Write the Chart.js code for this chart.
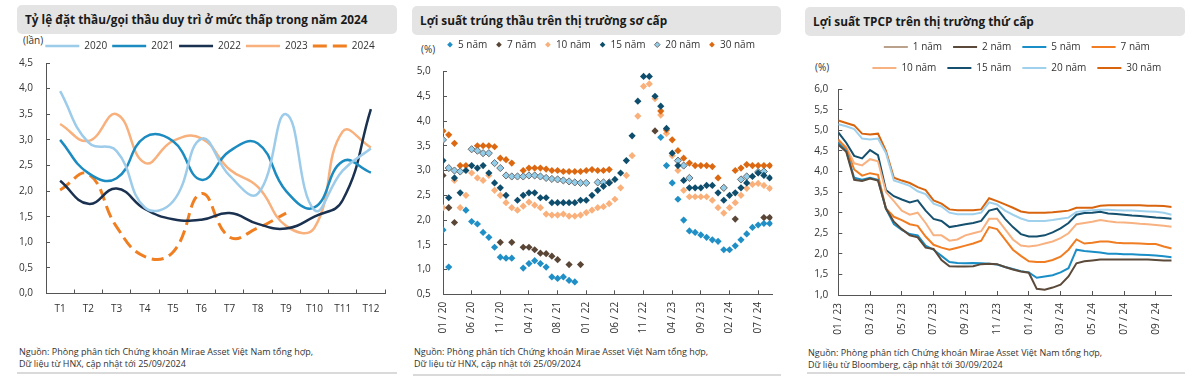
<!DOCTYPE html>
<html lang="vi">
<head>
<meta charset="utf-8">
<script src="https://cdn.jsdelivr.net/npm/chart.js@4.4.1/dist/chart.umd.min.js"></script>
<style>
  body { margin: 0; width: 1200px; height: 377px; background: #fff; position: relative; overflow: hidden; font-family: 'Open Sans', sans-serif; color: #333; }
  .bar { position: absolute; height: 29px; line-height: 29px; background: #e4e4e4; border-radius: 5px; padding-left: 8px; box-sizing: border-box; font-weight: 700; font-size: 11.8px; color: #1a1a1a; white-space: nowrap; }
  .unit { position: absolute; font-size: 10px; line-height: 13px; color: #333; }
  .src { position: absolute; font-size: 9px; line-height: 11.5px; color: #333; white-space: nowrap; }
  .rule { position: absolute; height: 2px; background: #dadada; }
  canvas { position: absolute; }
</style>
</head>
<body>
<div class="bar" style="left:17px;top:5px;width:380px">Tỷ lệ đặt thầu/gọi thầu duy trì ở mức thấp trong năm 2024</div>
<div class="bar" style="left:412px;top:6px;width:369px">Lợi suất trúng thầu trên thị trường sơ cấp</div>
<div class="bar" style="left:805px;top:7px;width:380px">Lợi suất TPCP trên thị trường thứ cấp</div>

<div class="unit" style="left:23px;top:34px">(lần)</div>
<div class="unit" style="left:421px;top:43px">(%)</div>
<div class="unit" style="left:815px;top:61px">(%)</div>

<canvas id="bidChart" width="400" height="300" style="left:0;top:36px"></canvas>
<canvas id="primaryChart" width="385" height="314" style="left:400px;top:31px"></canvas>
<canvas id="secondaryChart" width="410" height="314" style="left:790px;top:31px"></canvas>

<div class="src" style="left:19px;top:346px">Nguồn: Phòng phân tích Chứng khoán Mirae Asset Việt Nam tổng hợp,<br>Dữ liệu từ HNX, cập nhật tới 25/09/2024</div>
<div class="src" style="left:414px;top:346px">Nguồn: Phòng phân tích Chứng khoán Mirae Asset Việt Nam tổng hợp,<br>Dữ liệu từ HNX, cập nhật tới 25/09/2024</div>
<div class="src" style="left:808px;top:347px">Nguồn: Phòng phân tích Chứng khoán Mirae Asset Việt Nam tổng hợp,<br>Dữ liệu từ Bloomberg, cập nhật tới 30/09/2024</div>

<div class="rule" style="left:17px;top:372px;width:380px"></div>
<div class="rule" style="left:413px;top:374px;width:368px"></div>
<div class="rule" style="left:807px;top:372px;width:378px"></div>

<script>
// ---- chart 1: bid-to-cover ratio by month
const months = ['T1', 'T2', 'T3', 'T4', 'T5', 'T6', 'T7', 'T8', 'T9', 'T10', 'T11', 'T12'];
const bid2020 = [3.95, 2.95, 2.78, 1.68, 1.8, 3.02, 2.3, 1.95, 3.5, 1.63, 2.4, 2.83];
const bid2021 = [3.0, 2.35, 2.25, 3.05, 2.97, 2.22, 2.78, 2.93, 2.0, 1.68, 2.58, 2.36];
const bid2022 = [2.2, 1.75, 2.05, 1.65, 1.45, 1.44, 1.57, 1.36, 1.27, 1.5, 1.82, 3.6];
const bid2023 = [3.31, 2.98, 3.5, 2.55, 2.98, 3.03, 2.42, 2.08, 1.32, 1.28, 3.16, 2.85];
const bid2024 = [2.02, 2.33, 1.3, 0.72, 0.81, 1.95, 1.1, 1.28, 1.57];

// ---- chart 2: primary auction yields, sampled every 0.2 of a tick interval
const primaryTicks = ['01 / 20', '06 / 20', '11 / 20', '04 / 21', '08 / 21', '01 / 22', '06 / 22', '11 / 22', '04 / 23', '09 / 23', '02 / 24', '07 / 24'];
const primaryStep = 0.2;
const auction5 = [
  1.8, 1.05, null, null, 2.2, 1.97, 1.92, 1.75, 1.65, 1.45,
  1.25, 1.23, 1.23, null, 1.03, 1.12, 1.18, 1.12, 1.05, 0.85,
  0.82, 0.85, 0.78, 0.75, null, null, null, null, null, null,
  null, null, null, null, null, null, null, null, 3.67, 3.1,
  2.75, 2.42, 2.0, 1.78, 1.75, 1.7, 1.65, 1.6, 1.57, 1.4,
  1.4, 1.48, 1.6, 1.72, 1.85, 1.9, 1.93, 1.93];
const auction7 = [
  2.9, 2.25, 1.95, null, null, null, null, null, null, null,
  1.55, null, 1.55, null, 1.45, 1.45, 1.4, 1.33, 1.32, 1.27,
  1.2, null, 1.1, null, 1.1, null, null, null, null, null,
  null, null, null, null, null, null, null, 3.8, null, null,
  null, null, null, null, null, null, null, null, null, null,
  null, 2.02, null, null, null, null, 2.05, 2.05];
const auction10 = [
  2.25, 2.25, 2.8, 2.25, 2.5, 2.95, 2.85, 2.8, 2.9, 2.6,
  2.5, 2.35, 2.25, 2.2, 2.28, 2.36, 2.3, 2.25, 2.12, 2.1,
  2.1, 2.12, 2.08, 2.08, 2.1, 2.15, 2.2, 2.25, 2.27, 2.33,
  2.42, 2.65, 2.9, 3.3, 4.1, 4.7, 4.75, 4.45, 4.12, 3.75,
  3.3, 3.0, 2.6, 2.47, 2.47, 2.47, 2.47, 2.4, 2.25, 2.14,
  2.25, 2.35, 2.5, 2.64, 2.72, 2.74, 2.7, 2.64];
const auction15 = [
  3.2, 2.45, 2.85, 2.55, 3.0, 3.1, 3.05, 3.1, 2.95, 2.75,
  2.65, 2.5, null, 2.4, 2.5, 2.55, 2.55, 2.45, 2.45, 2.35,
  2.35, 2.35, 2.35, 2.35, 2.4, 2.4, 2.5, 2.6, 2.68, 2.75,
  2.82, 2.95, 3.2, 3.7, 4.4, 4.9, 4.9, 4.5, 4.3, 3.85,
  3.35, 3.1, 2.8, 2.65, 2.65, 2.65, 2.7, 2.7, 2.55, 2.4,
  2.5, 2.55, 2.65, 2.75, 2.88, 2.95, 2.9, 2.85];
const auction20 = [
  3.62, 3.05, 3.0, 2.98, null, 3.43, 3.4, 3.35, 3.35, 3.15,
  3.05, 2.9, 2.88, 2.88, 2.88, 2.9, 2.9, 2.88, 2.85, 2.83,
  2.82, 2.8, 2.78, 2.76, 2.75, 2.75, null, 2.76, 2.76, 2.76,
  null, null, null, null, null, null, null, null, null, null,
  null, 3.2, 3.1, 2.85, null, null, null, null, null, 2.65,
  null, null, 2.82, 2.88, null, 2.97, 2.98, null];
const auction30 = [
  3.8, 3.72, 3.55, 3.1, 3.1, null, 3.5, 3.5, 3.5, 3.48,
  3.25, 3.22, 3.15, null, 3.0, 3.05, 3.05, 3.05, 3.03, 3.0,
  3.0, 2.98, 2.98, 2.98, 2.98, 3.0, 3.02, 3.0, 3.0, 3.02,
  null, null, null, null, null, null, null, null, 4.2, 3.82,
  3.62, 3.4, 3.25, 3.15, 3.1, 3.1, 3.1, 3.08, 2.85, 2.65,
  null, 3.0, 3.05, 3.12, 3.1, 3.1, 3.1, 3.1];

// ---- chart 3: secondary market yields, every half month from 01/23
const secondaryTicks = ['01 / 23', '03 / 23', '05 / 23', '07 / 23', '09 / 23', '11 / 23', '01 / 24', '03 / 24', '05 / 24', '07 / 24', '09 / 24'];
const secondaryStep = 0.5;
const gov1 = [];
const gov2 = [
  4.65, 4.48, 3.8, 3.77, 3.83, 3.78, 3.1, 2.78, 2.6, 2.45,
  2.4, 2.15, 2.12, 1.85, 1.7, 1.69, 1.69, 1.7, 1.75, 1.76,
  1.75, 1.68, 1.62, 1.57, 1.54, 1.15, 1.13, 1.18, 1.25, 1.45,
  1.77, 1.82, 1.84, 1.86, 1.86, 1.86, 1.86, 1.86, 1.86, 1.86,
  1.85, 1.84, 1.84];
const gov5 = [
  4.7, 4.5, 3.85, 3.8, 3.85, 3.8, 3.1, 2.72, 2.58, 2.48,
  2.45, 2.2, 2.1, 1.95, 1.8, 1.78, 1.77, 1.78, 1.77, 1.76,
  1.74, 1.68, 1.63, 1.58, 1.55, 1.42, 1.45, 1.48, 1.55, 1.65,
  2.1, 2.07, 2.05, 2.03, 2.0, 2.0, 1.99, 1.99, 1.98, 1.97,
  1.96, 1.94, 1.92];
const gov7 = [
  4.78, 4.55, 4.05, 3.9, 3.96, 3.92, 3.1, 2.9, 2.82, 2.72,
  2.68, 2.42, 2.22, 2.15, 2.1, 2.15, 2.2, 2.25, 2.32, 2.65,
  2.6, 2.35, 2.1, 1.95, 1.82, 1.8, 1.8, 1.85, 1.93, 2.1,
  2.35, 2.25, 2.27, 2.3, 2.3, 2.27, 2.26, 2.26, 2.25, 2.24,
  2.24, 2.18, 2.13];
const gov10 = [
  4.75, 4.6, 4.2, 4.15, 4.3, 4.25, 3.5, 3.28, 3.05, 2.95,
  3.0, 2.75, 2.45, 2.45, 2.32, 2.35, 2.45, 2.5, 2.55, 2.85,
  2.85, 2.6, 2.35, 2.2, 2.18, 2.2, 2.25, 2.3, 2.38, 2.5,
  2.72, 2.75, 2.78, 2.82, 2.79, 2.77, 2.76, 2.75, 2.73, 2.72,
  2.7, 2.68, 2.66];
const gov15 = [
  4.95, 4.7, 4.38, 4.32, 4.52, 4.4, 3.55, 3.4, 3.32, 3.25,
  3.3, 3.05, 2.85, 2.8, 2.65, 2.68, 2.72, 2.75, 2.8, 3.05,
  3.1, 2.85, 2.65, 2.48, 2.42, 2.42, 2.45, 2.52, 2.62, 2.75,
  2.95, 2.99, 3.0, 3.02, 2.98, 2.97, 2.95, 2.93, 2.92, 2.9,
  2.88, 2.87, 2.85];
const gov20 = [
  5.15, 5.1, 5.03, 4.8, 4.78, 4.8, 4.45, 3.78, 3.72, 3.65,
  3.52, 3.45, 3.22, 3.15, 3.0, 2.96, 2.96, 2.96, 3.0, 3.25,
  3.2, 3.05, 2.95, 2.86, 2.8, 2.8, 2.8, 2.82, 2.85, 2.88,
  3.02, 3.04, 3.06, 3.07, 3.07, 3.06, 3.05, 3.05, 3.04, 3.03,
  3.02, 3.0, 2.95];
const gov30 = [
  5.24, 5.18, 5.12, 4.92, 4.9, 4.92, 4.5, 3.85, 3.78, 3.72,
  3.62, 3.55, 3.3, 3.22, 3.08, 3.06, 3.06, 3.06, 3.08, 3.35,
  3.28, 3.2, 3.12, 3.03, 3.0, 3.0, 3.0, 3.01, 3.03, 3.05,
  3.12, 3.12, 3.12, 3.17, 3.18, 3.18, 3.18, 3.18, 3.18, 3.17,
  3.17, 3.16, 3.14];

// ---- shared look
const FONT = 'Open Sans';
const TEXT = '#333';
const AXIS = '#555';
const comma = v => v.toFixed(1).replace('.', ',');
const toPoints = (vals, step) => vals.map((v, i) => ({ x: i * step, y: v }));

// extra room under the legend, a sideways nudge, and an optional row width cap
const legendPlace = (gap, dx, rowWidth) => ({
  id: 'legendPlace',
  beforeInit(chart) {
    const lg = chart.legend;
    const fit = lg.fit;
    const draw = lg.draw;
    lg.fit = function () {
      if (rowWidth) this.maxWidth = Math.min(this.maxWidth, rowWidth);
      fit.call(this);
      this.height += gap;
    };
    lg.draw = function () {
      this.ctx.save();
      this.ctx.translate(dx, 0);
      draw.call(this);
      this.ctx.restore();
    };
  }
});

// line samples in the legend take the dataset's own stroke (and dash)
const lineLabels = dash => chart =>
  Chart.defaults.plugins.legend.labels.generateLabels(chart).map(item => {
    const ds = chart.data.datasets[item.datasetIndex];
    item.strokeStyle = ds.borderColor;
    item.lineWidth = ds.borderWidth;
    item.lineDash = ds.borderDash ? dash : [];
    return item;
  });

const axisBase = () => ({
  grid: { drawOnChartArea: false, tickLength: -4, color: AXIS },
  border: { color: AXIS, width: 1 },
  ticks: { font: { family: FONT, size: 10 }, color: TEXT }
});

function valueAxis(min, max, pad, width) {
  const a = axisBase();
  a.min = min;
  a.max = max;
  Object.assign(a.ticks, { stepSize: 0.5, padding: pad, callback: comma });
  a.afterFit = s => { s.width = width; };
  return a;
}

function dateAxis(max, every, labels, pad, height) {
  const a = axisBase();
  a.type = 'linear';
  a.min = 0;
  a.max = max;
  Object.assign(a.ticks, {
    stepSize: every, padding: pad, minRotation: 90, maxRotation: 90, autoSkip: false,
    callback: v => labels[Math.round(v / every)]
  });
  a.afterBuildTicks = s => { s.ticks = s.ticks.filter(t => Math.abs(t.value / every - Math.round(t.value / every)) < 1e-6); };
  a.afterFit = s => { s.height = height; };
  return a;
}

Chart.defaults.font.family = FONT;

// chart 1
const xBid = axisBase();
xBid.offset = true;
xBid.grid.offset = true;
xBid.ticks.padding = 14;
xBid.afterFit = s => { s.height = 42.5; };

new Chart(document.getElementById('bidChart'), {
  type: 'line',
  data: {
    labels: months,
    datasets: [
      { label: '2020', data: bid2020, borderColor: '#9dcbea' },
      { label: '2021', data: bid2021, borderColor: '#1b8bc0' },
      { label: '2022', data: bid2022, borderColor: '#1b3150' },
      { label: '2023', data: bid2023, borderColor: '#f8b07c' },
      { label: '2024', data: bid2024, borderColor: '#f07f22', borderDash: [12, 6], borderWidth: 3 }
    ].map(d => Object.assign({ borderWidth: 2.5, tension: 0.45, pointRadius: 0, fill: false }, d))
  },
  options: {
    responsive: false, animation: false, events: [],
    layout: { padding: { left: 0, right: 15 } },
    plugins: {
      legend: { labels: { usePointStyle: true, pointStyle: 'line', pointStyleWidth: 34, padding: 5, color: TEXT, font: { family: FONT, size: 10 }, generateLabels: lineLabels([14, 6]) } },
      tooltip: { enabled: false }
    },
    scales: { x: xBid, y: valueAxis(0, 4.5, 17, 46) }
  },
  plugins: [legendPlace(2, 17.5)]
});

// chart 2
const diamonds = [
  { label: '5 năm', data: auction5, backgroundColor: '#1f8fc6', order: 1 },
  { label: '7 năm', data: auction7, backgroundColor: '#5a4636', order: 4 },
  { label: '10 năm', data: auction10, backgroundColor: '#f9b07a', order: 6 },
  { label: '15 năm', data: auction15, backgroundColor: '#0e4e6c', order: 2 },
  { label: '20 năm', data: auction20, backgroundColor: '#92cdea', borderColor: '#6e6e6e', borderWidth: 1, order: 3 },
  { label: '30 năm', data: auction30, backgroundColor: '#dc6912', order: 5 }
].map(d => Object.assign({
  showLine: false, pointStyle: 'rectRot', pointRadius: 3.6, borderWidth: 0, borderColor: d.backgroundColor
}, d, { data: toPoints(d.data, primaryStep), pointBorderWidth: d.borderWidth || 0, pointBorderColor: d.borderColor || d.backgroundColor }));

new Chart(document.getElementById('primaryChart'), {
  type: 'line',
  data: { datasets: diamonds },
  options: {
    responsive: false, animation: false, events: [],
    layout: { padding: { left: 0, right: 12.5 } },
    plugins: {
      legend: { labels: { usePointStyle: true, boxWidth: 6, boxHeight: 4, padding: 8.7, color: TEXT, font: { family: FONT, size: 10 }, sort: (a, b) => a.datasetIndex - b.datasetIndex } },
      tooltip: { enabled: false }
    },
    scales: {
      x: dateAxis(11.5, 1, primaryTicks, 11.5, 50.7),
      y: valueAxis(0.5, 5, 16.3, 43)
    }
  },
  plugins: [legendPlace(11.8, 14.7)]
});

// chart 3
const lines = [
  { label: '1 năm', data: gov1, borderColor: '#b9a18b' },
  { label: '2 năm', data: gov2, borderColor: '#5b4a3a' },
  { label: '5 năm', data: gov5, borderColor: '#1a8ec6' },
  { label: '7 năm', data: gov7, borderColor: '#f07d22' },
  { label: '10 năm', data: gov10, borderColor: '#f8b282' },
  { label: '15 năm', data: gov15, borderColor: '#15506e' },
  { label: '20 năm', data: gov20, borderColor: '#9fd0ec' },
  { label: '30 năm', data: gov30, borderColor: '#d8640e' }
].map(d => Object.assign({ borderWidth: 2, pointRadius: 0, tension: 0, fill: false }, d, { data: toPoints(d.data, secondaryStep) }));

new Chart(document.getElementById('secondaryChart'), {
  type: 'line',
  data: { datasets: lines },
  options: {
    responsive: false, animation: false, events: [],
    layout: { padding: { left: 0, right: 28.3 } },
    plugins: {
      legend: { labels: { usePointStyle: true, pointStyle: 'line', pointStyleWidth: 24, padding: 11, color: TEXT, font: { family: FONT, size: 10 }, generateLabels: lineLabels([]) } },
      tooltip: { enabled: false }
    },
    scales: {
      x: dateAxis(21, 2, secondaryTicks, 12, 50),
      y: valueAxis(1, 6, 14, 48.3)
    }
  },
  plugins: [legendPlace(6.2, 36, 340)]
});
</script>
</body>
</html>
